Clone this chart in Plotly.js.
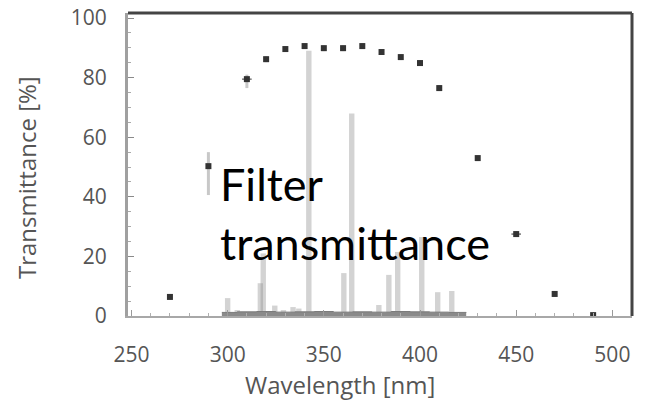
<!DOCTYPE html>
<html>
<head>
<meta charset="utf-8">
<script src="https://cdn.plot.ly/plotly-3.0.1.min.js"></script>
<style>
  html, body { margin: 0; padding: 0; background: #ffffff; }
  #chart { width: 650px; height: 402px; }
</style>
</head>
<body>
<div id="chart"></div>
<script>
// Filter transmittance measured at discrete wavelengths (nm, %)
const filterWl = [270, 290, 310, 320, 330, 340, 350, 360, 370, 380, 390, 400, 410, 430, 450, 470, 490];
const filterT  = [6.4, 50.3, 79.5, 86.2, 89.6, 90.6, 89.9, 89.9, 90.6, 88.6, 86.9, 84.9, 76.5, 53.0, 27.5, 7.4, 0.3];
const filterErrPlus  = [1.0, 4.7, 1.5, 1.0, 1.0, 1.0, 1.0, 1.0, 1.0, 1.0, 1.0, 1.0, 1.0, 1.0, 1.0, 1.0, 0.5];
const filterErrMinus = [1.0, 9.7, 3.0, 1.0, 1.0, 1.0, 1.0, 1.0, 1.0, 1.0, 1.0, 1.0, 1.0, 1.0, 1.0, 1.0, 0.5];
const filterErrX     = [0, 0, 2.5, 0, 0, 0, 0, 0, 0, 0, 0, 0, 0, 0, 2.5, 0, 0];

// Lamp emission lines (nm, relative %)
const lineWl = [300, 305, 317, 318.5, 324.5, 329, 334, 337, 342.2, 360.4, 364.5, 378.6, 383.8, 388.4, 400.9, 409.2, 416.5];
const lineI  = [6.0, 2.0, 11.0, 21.0, 3.5, 2.0, 3.0, 2.5, 89.0, 14.4, 68.0, 3.7, 13.8, 21.5, 26.5, 8.0, 8.4];

// Low-level continuum under the lines
const floorWl = [297, 305, 315, 325, 335, 345, 355, 365, 375, 385, 395, 405, 415, 424];
const floorI  = [1.2, 1.4, 1.5, 1.3, 1.4, 1.5, 1.3, 1.4, 1.3, 1.5, 1.4, 1.3, 1.2, 1.1];

// Axis ticks
const xTicks = [250, 300, 350, 400, 450, 500];
const yTicks = [0, 20, 40, 60, 80, 100];

const traces = [
  {
    type: 'bar',
    x: lineWl,
    y: lineI,
    width: 2.8,
    marker: { color: 'rgba(150,150,150,0.42)', line: { width: 0 } },
    hoverinfo: 'x+y'
  },
  {
    type: 'scatter',
    mode: 'lines',
    x: floorWl,
    y: floorI,
    line: { color: '#7a7a7a', width: 1, shape: 'hv' },
    fill: 'tozeroy',
    fillcolor: '#8a8a8a',
    hoverinfo: 'skip'
  },
  {
    type: 'scatter',
    mode: 'markers',
    x: filterWl,
    y: filterT,
    marker: { symbol: 'square', size: 6, color: '#333333' },
    error_y: {
      type: 'data', symmetric: false,
      array: filterErrPlus, arrayminus: filterErrMinus,
      color: '#c8c8c8', thickness: 3, width: 0
    },
    error_x: {
      type: 'data', array: filterErrX,
      color: '#555555', thickness: 1.2, width: 0
    }
  }
];

const layout = {
  width: 650,
  height: 402,
  margin: { l: 128, r: 18, t: 13, b: 86 },
  paper_bgcolor: '#ffffff',
  plot_bgcolor: '#ffffff',
  showlegend: false,
  barmode: 'overlay',
  font: { family: 'Open Sans, sans-serif', color: '#555555' },
  xaxis: {
    range: [248.2, 510.2],
    tickmode: 'array',
    tickvals: xTicks,
    ticktext: xTicks.map(String),
    ticks: 'inside',
    ticklen: 6,
    tickwidth: 1,
    tickcolor: '#9a9a9a',
    minor: { dtick: 10, ticks: 'inside', ticklen: 3, tickcolor: '#b0b0b0' },
    showgrid: false,
    zeroline: false,
    showline: true,
    linecolor: '#a8a8a8',
    linewidth: 2,
    tickfont: { family: 'Open Sans, sans-serif', size: 21, color: '#555555' },
    ticklabelstandoff: 19
  },
  yaxis: {
    range: [0, 101.7],
    tickmode: 'array',
    tickvals: yTicks,
    ticktext: yTicks.map(String),
    ticks: 'inside',
    ticklen: 6,
    tickwidth: 1,
    tickcolor: '#8a8a8a',
    minor: { dtick: 5, ticks: 'inside', ticklen: 3, tickcolor: '#aaaaaa' },
    showgrid: false,
    zeroline: false,
    showline: true,
    linecolor: '#a0a0a0',
    linewidth: 3,
    tickfont: { family: 'Open Sans, sans-serif', size: 21, color: '#555555' },
    ticklabelstandoff: 14
  },
  shapes: [
    { type: 'line', xref: 'paper', yref: 'paper', x0: 0, x1: 1, y0: 1, y1: 1,
      line: { color: '#444444', width: 3 } },
    { type: 'line', xref: 'paper', yref: 'paper', x0: 1, x1: 1, y0: 0, y1: 1,
      line: { color: '#444444', width: 3 } }
  ],
  annotations: [
    {
      xref: 'paper', yref: 'paper', x: 0.4206, y: -0.2277,
      xanchor: 'center', yanchor: 'middle', showarrow: false,
      text: 'Wavelength [nm]',
      font: { family: 'Open Sans, sans-serif', size: 24, color: '#555555' }
    },
    {
      xref: 'paper', yref: 'paper', x: -0.2024, y: 0.4587,
      xanchor: 'center', yanchor: 'middle', showarrow: false, textangle: -90,
      text: 'Transmittance [%]',
      font: { family: 'Open Sans, sans-serif', size: 24, color: '#555555' }
    },
    {
      xref: 'paper', yref: 'paper', x: 0.1786, y: 0.337,
      xanchor: 'left', yanchor: 'middle', align: 'left', showarrow: false,
      text: 'Filter<br>transmittance',
      font: { family: 'Lato, sans-serif', size: 45, color: '#000000' }
    }
  ]
};

Plotly.newPlot('chart', traces, layout, { staticPlot: true, displayModeBar: false });
</script>
</body>
</html>
